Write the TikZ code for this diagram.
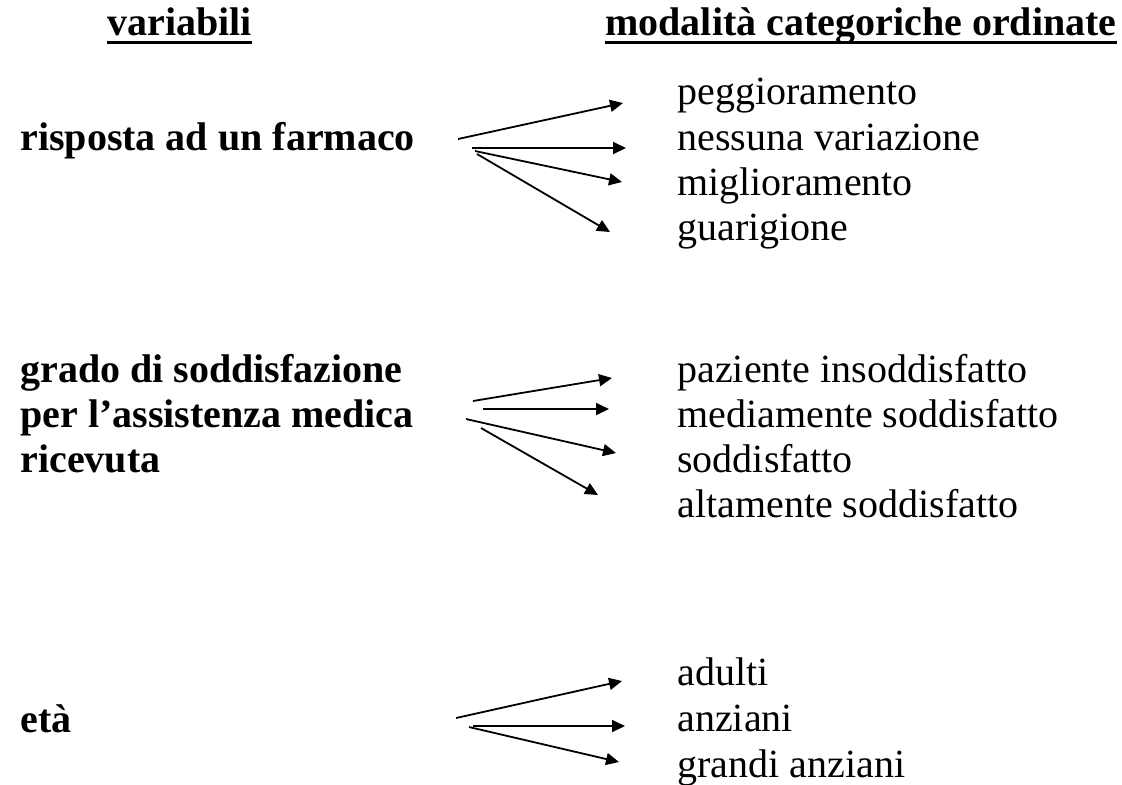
\documentclass[tikz,border=0pt]{standalone}
\usepackage{fontspec}
\setmainfont{Liberation Serif}
\usetikzlibrary{arrows.meta}
\begin{document}
\begin{tikzpicture}[x=0.5pt,y=-0.5pt,
  every node/.style={inner sep=0pt,anchor=base west,font=\fontsize{20}{22.5}\selectfont},
  var/.style={font=\fontsize{20}{22.5}\selectfont\bfseries},
  freccia/.style={-{Triangle[length=6.5pt,width=6pt]},line width=0.9pt}]
  \useasboundingbox (0,0) rectangle (1122,784);
  % intestazioni
  \node[var] (hvar) at (107,35) {variabili};
  \node[var] (hmod) at (605,35) {modalità categoriche ordinate};
  \draw[line width=1.5pt] ([yshift=-3.6pt]hvar.base west) -- ([yshift=-3.6pt]hvar.base east);
  \draw[line width=1.5pt] ([yshift=-3.6pt]hmod.base west) -- ([yshift=-3.6pt]hmod.base east);
  % variabili
  \node[var] (risposta) at (20,150) {risposta ad un farmaco};
  \node[var] (grado) at (20,382) {grado di soddisfazione};
  \node[var] (assist) at (20,427) {per l’assistenza medica};
  \node[var] (ricev) at (20,472) {ricevuta};
  \node[var] (eta) at (20,732) {età};
  % modalita
  \node (pegg) at (677,104) {peggioramento};
  \node (ness) at (677,150) {nessuna variazione};
  \node (migl) at (677,195) {miglioramento};
  \node (guar) at (677,240) {guarigione};
  \node (pins) at (677,382) {paziente insoddisfatto};
  \node (msod) at (677,427) {mediamente soddisfatto};
  \node (sodd) at (677,472) {soddisfatto};
  \node (asod) at (677,517) {altamente soddisfatto};
  \node (adul) at (677,685) {adulti};
  \node (anz) at (677,731) {anziani};
  \node (ganz) at (677,777) {grandi anziani};
  % frecce
  \foreach \n/\sx/\sy/\tx/\ty in {
      1/458/139/623/103, 2/472/148/626/148, 3/475/151/622/182, 4/477/154/610/232,
      5/473/401/612/378, 6/483/409/609/409, 7/466/419/616/453, 8/481/428/598/495,
      9/456/718/622/681, 10/473/726/625/726, 11/469/727/619/762} {
    \coordinate (s\n) at (\sx,\sy);
    \coordinate (t\n) at (\tx,\ty);
    \draw[freccia] (s\n) -- (t\n);
  }
\end{tikzpicture}
\end{document}
